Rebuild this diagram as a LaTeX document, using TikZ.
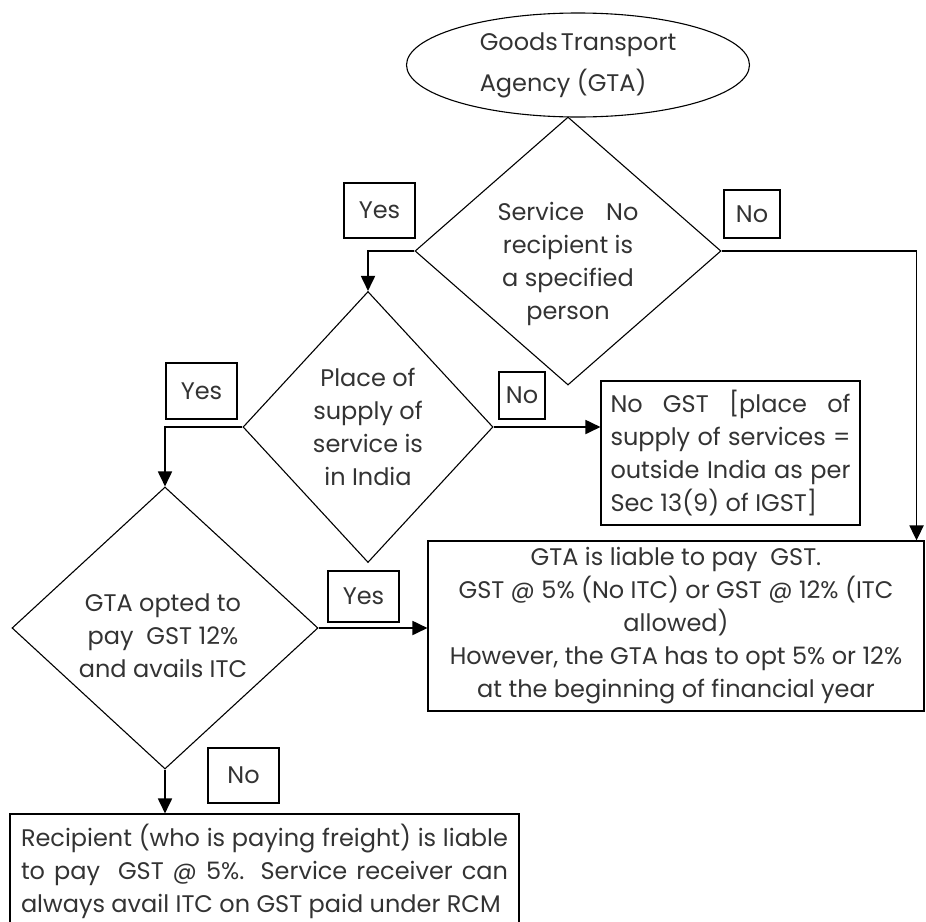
\documentclass[tikz,border=0pt]{standalone}
\usepackage{fontspec}
\setmainfont{Poppins}
\usetikzlibrary{shapes.geometric,arrows.meta,positioning}

\tikzset{
  decision/.style={diamond, draw, line width=1.1pt, inner sep=0pt, aspect=1},
  outbox/.style={draw, line width=1.1pt, inner sep=0pt},
  labelbox/.style={draw, line width=1.3pt, inner sep=0pt},
  arr/.style={line width=1.8pt, -{Triangle[length=15pt,width=14pt]}},
}

\begin{document}
\begin{tikzpicture}[x=1pt,y=-1pt, font=\fontsize{24}{33}\selectfont, text=black!80]
  \useasboundingbox (0,0) rectangle (926,921);
  % Start
  \node[ellipse, draw, line width=1.1pt, inner sep=0pt, minimum width=343pt,
        minimum height=104pt, align=left] (gtastart) at (578,65)
        {Goods\hspace{3pt}Transport\\[8pt]Agency (GTA)};
  % Decisions
  \node[decision, minimum width=306pt, minimum height=268pt] (dspec) at (568,251) {};
  \node[align=center] (dspectext) at (568,264)
        {Service\hspace{22pt}No\\recipient is\\a specified\\person};
  \node[decision, minimum width=250pt, minimum height=271pt, align=center] (dpos) at (368,427)
        {Place of\\supply of\\service is\\in India};
  \node[decision, minimum width=306pt, minimum height=282pt] (dopt) at (165,628) {};
  \node[align=center] (dopttext) at (163,636)
        {GTA opted to\\pay\ \ GST 12\%\\and avails ITC};
  % Outcomes
  \node[outbox, minimum width=259pt, minimum height=144pt, text width=240pt,
        align=justify] (nogst) at (730.5,453)
        {No GST [place of\linebreak supply of services =\linebreak
         outside India as per\linebreak Sec 13(9) of IGST]};
  \node[outbox, minimum width=496pt, minimum height=170pt, align=center] (gtapays) at (676,626)
        {GTA is liable to pay\ \ GST.\\GST @ 5\% (No ITC) or GST @ 12\% (ITC\\allowed)\\
         However, the GTA has to opt 5\% or 12\%\\at the beginning of financial year};
  \node[outbox, minimum width=509pt, minimum height=114pt, text width=487pt,
        align=justify] (rcm) at (264.5,871)
        {Recipient (who is paying freight) is liable\linebreak
         to pay\ \ GST @ 5\%. Service receiver can\linebreak
         always avail ITC on GST paid under RCM};
  % Yes / No labels
  \node[labelbox, minimum width=71pt, minimum height=55pt] (yesspec) at (379.5,210.5) {Yes};
  \node[labelbox, minimum width=56pt, minimum height=48pt] (nospec) at (752,214) {No};
  \node[labelbox, minimum width=71pt, minimum height=56pt] (yespos) at (201.5,391) {Yes};
  \node[labelbox, minimum width=46pt, minimum height=47pt] (nopos) at (522,395.5) {No};
  \node[labelbox, minimum width=71pt, minimum height=51pt] (yesopt) at (363.5,596.5) {Yes};
  \node[labelbox, minimum width=71pt, minimum height=55pt] (noopt) at (243.5,775.5) {No};
  % Connectors
  \draw[arr] (dspec.west) -| (dpos.north);
  \draw[arr] (dspec.east) -| ([xshift=-8pt]gtapays.north east);
  \draw[arr] (dpos.east) -- (dpos.east -| nogst.west);
  \draw[arr] (dpos.west) -| (dopt.north);
  \draw[arr] (dopt.east) -- (dopt.east -| gtapays.west);
  \draw[arr] (dopt.south) -- (dopt.south |- rcm.north);
\end{tikzpicture}
\end{document}
